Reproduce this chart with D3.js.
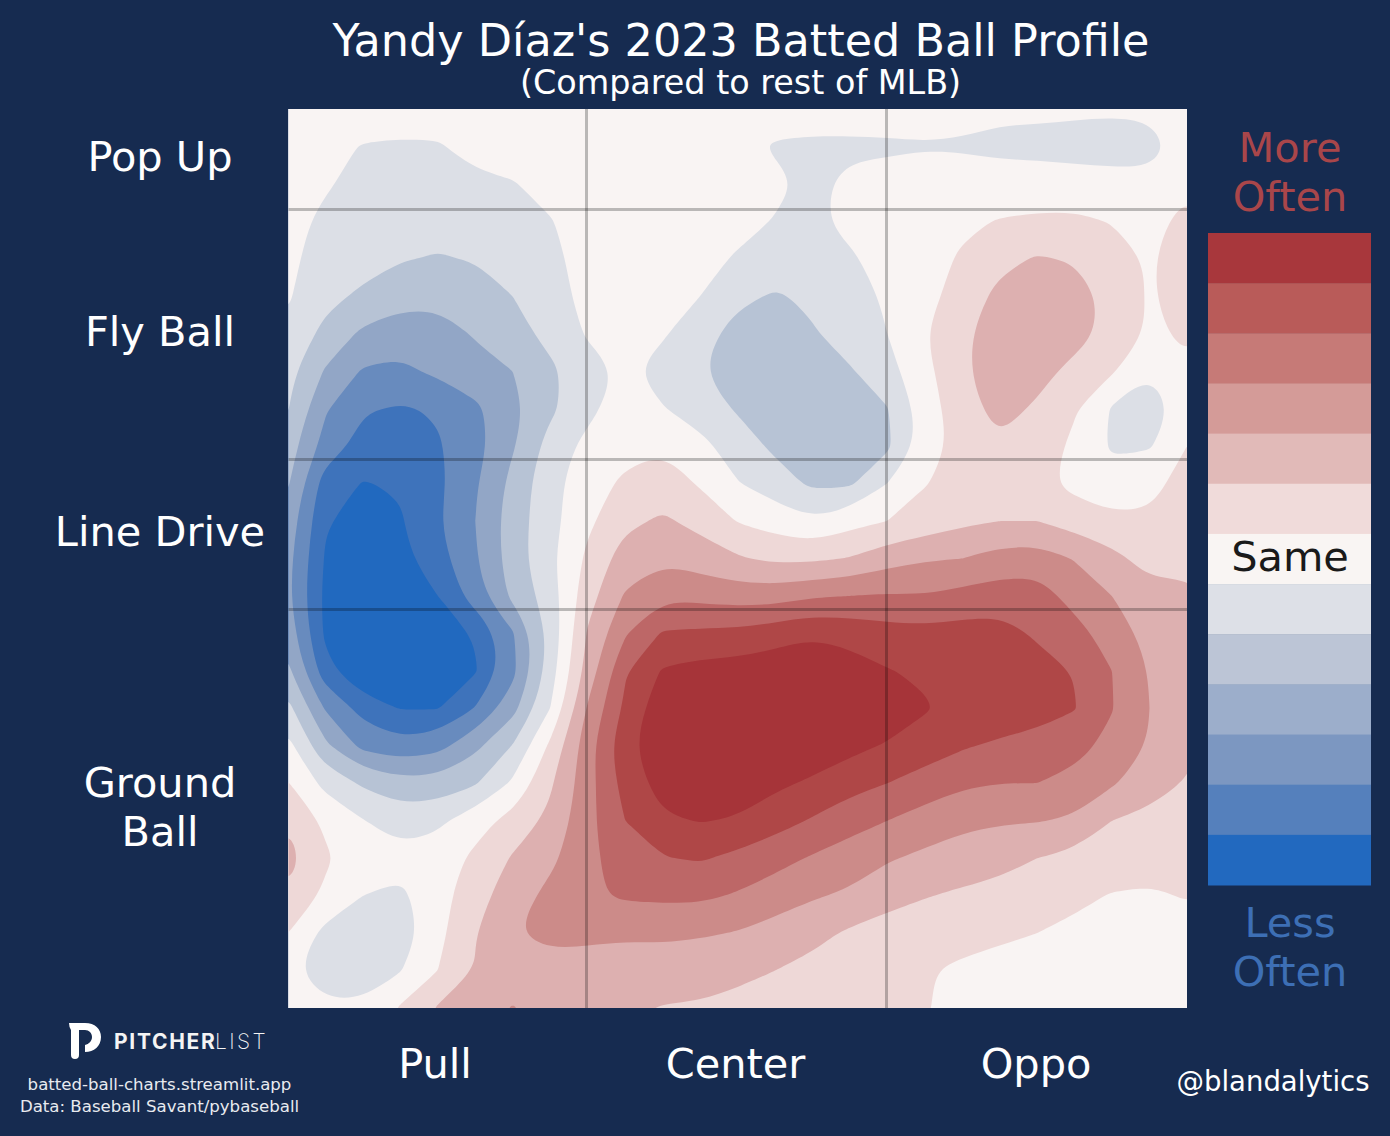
<!DOCTYPE html>
<html>
<head>
<meta charset="utf-8">
<script src="https://cdn.jsdelivr.net/npm/d3@7"></script>
<style>
  body { margin: 0; background: #162b50; }
  svg { display: block; }
  text { font-family: "DejaVu Sans", sans-serif; fill: #fff; text-anchor: middle; }
</style>
</head>
<body>
<svg id="chart" width="1390" height="1136"></svg>
<script>
// rate difference, rows top to bottom, in colour steps (0 = same)
const rate00 = [0.1,0,0,-0.1,-0.1,-0.1,0,0.1,0.1,0.1,0,0,0,-0.05,-0.1,-0.1,-0.1,-0.2,-0.2,-0.3,-0.3,-0.35,-0.4,-0.35,-0.1];
const rate01 = [0.1,-0.25,-0.55,-0.6,-0.58,-0.2,-0.15,0,0.1,0.1,0.1,0.1,-0.1,-0.6,-0.65,-0.65,-0.62,-0.55,-0.6,-0.75,-0.8,-0.85,-0.85,-0.8,-0.1];
const rate02 = [0,-0.4,-0.8,-1,-1,-0.7,-0.55,-0.2,0,0.1,0.1,0.1,0.1,-0.3,-0.7,-0.3,-0.2,-0.1,0,0,0,-0.1,-0.2,-0.25,0.3];
const rate03 = [-0.2,-0.7,-1,-1.2,-1.3,-1.2,-0.9,-0.55,-0.1,0,0.1,0,-0.2,-0.55,-0.65,-0.3,-0.1,0.1,0.35,0.55,0.65,0.7,0.45,0.2,0.8];
const rate04 = [-0.35,-0.8,-1.1,-1.45,-1.55,-1.45,-1.15,-0.7,-0.2,-0.05,0,-0.2,-0.6,-0.85,-0.85,-0.6,-0.2,0.2,0.6,1.2,1.6,1.4,1,0.4,1];
const rate05 = [-0.4,-1.2,-1.7,-2.1,-2.2,-2,-1.5,-0.9,-0.2,-0.1,-0.1,-0.5,-1.25,-1.62,-1.3,-0.8,-0.4,0.2,0.9,1.8,2,2,1.15,0.4,0.95];
const rate06 = [-0.7,-1.8,-2.7,-3.1,-3,-2.4,-1.9,-1.2,-0.4,-0.05,-0.4,-1.1,-1.9,-2.05,-1.6,-1.05,-0.5,0.45,1.35,1.9,2.1,1.9,1.15,0.4,0.6];
const rate07 = [-1.2,-2.6,-3.6,-3.7,-3.3,-2.9,-2.5,-1.7,-0.9,-0.33,-0.85,-1.45,-1.95,-2.15,-2,-1.6,-0.85,0.2,1.35,2,1.85,1.2,0.6,-0.45,0.4];
const rate08 = [-1.45,-3.4,-4.4,-4.6,-4.4,-3.7,-2.8,-1.7,-0.8,0.1,-0.45,-1,-1.6,-2,-2.15,-1.9,-1.55,0,1.1,1.85,1.35,0.6,-0.6,-1.1,0];
const rate09 = [-2,-3.9,-4.9,-4.95,-4.6,-3.9,-2.6,-1.1,-0.2,0.15,0.4,-0.2,-1,-1.7,-2.05,-2,-1.7,-0.05,0.9,1.35,1,0.3,-0.65,-0.6,0.5];
const rate10 = [-2.4,-5,-5.55,-5.4,-4.75,-3.6,-2.2,-0.8,0.05,0.7,1,0.4,-0.45,-1,-1.7,-1.65,-0.5,0.45,0.85,1,0.8,0.2,-0.1,0.3,0.75];
const rate11 = [-2.9,-5.4,-5.95,-5.6,-4.6,-3.5,-2,-0.85,0.3,1.25,1.65,1.2,0.45,0.05,-0.4,0.15,0.5,0.9,1.3,1.5,1.5,1.1,0.7,0.6,1];
const rate12 = [-3.2,-5.6,-6.3,-5.8,-4.9,-3.6,-2,-0.7,0.7,2,2.35,2,1.6,1.3,1.3,1.55,2.1,2.4,2.5,2.9,3,2.45,1.8,1.1,1.25];
const rate13 = [-3.3,-5.75,-6.3,-6.1,-5.5,-4,-2.25,-1,1.1,2.6,3.35,3.2,3.05,3.05,3.4,3.5,3.6,3.55,3.8,4,4,3.1,2.5,1.9,1.7];
const rate14 = [-2.9,-5.7,-6.4,-6.4,-6,-5.4,-3.6,-1.2,1.6,3.4,4.6,4.7,4.75,5.1,5.4,5.2,4.9,4.8,4.9,4.9,4.35,3.9,3,2.2,2.1];
const rate15 = [-2.3,-5.1,-6.5,-6.6,-6.3,-5.6,-3.8,-1,1.9,4.4,5.6,5.85,5.95,6.05,6.1,5.9,5.55,5.35,5.1,5.05,4.9,4.45,3.5,2.45,2.25];
const rate16 = [-1.2,-3.6,-4.85,-5.55,-5.55,-4.45,-2.85,-0.5,2.6,4.7,6.2,6.4,6.5,6.55,6.5,6.4,6.2,5.6,5.1,5.05,4.9,4.55,3.55,2.5,2.15];
const rate17 = [-0.2,-2.3,-3.8,-4.2,-3.85,-2.75,-1.45,0.7,3.1,5.25,6.1,6.4,6.4,6.3,6.1,5.8,5.4,5,4.6,4.35,4.15,3.85,3.2,2.45,1.8];
const rate18 = [0.55,-0.8,-1.65,-2.1,-2.15,-1.6,-0.35,1.35,3.1,4.9,5.9,6.1,6.1,5.7,5.35,4.85,4.5,4.1,3.65,3.5,3.5,3.2,2.6,2,1.4];
const rate19 = [1.4,0.3,-0.45,-1,-0.7,0.1,0.85,1.75,3.2,4.5,5.35,5.55,5.4,4.9,4.4,3.9,3.5,3.05,2.75,2.6,2.55,2.35,1.5,1.2,1.1];
const rate20 = [1.9,0.65,-0.1,-0.2,0,0.7,1.6,2.25,3.3,3.9,4.45,4.6,4.25,3.85,3.4,3,2.6,2.3,2,1.8,1.5,1.2,0.95,0.8,0.75];
const rate21 = [1.35,0.3,-0.5,-0.7,0.1,1.15,2,2.8,3.35,3.65,3.7,3.7,3.4,3,2.6,2.35,1.75,1.55,1.35,1.2,0.95,0.7,0.45,0.4,0.55];
const rate22 = [0.5,-0.8,-1.15,-1.1,0.2,1.45,2.45,2.8,2.7,2.65,2.7,2.6,2.45,2.1,1.8,1.35,1.2,0.95,0.8,0.65,0.5,0.3,0.2,0.15,0.2];
const rate23 = [-0.25,-1.15,-1.1,-0.55,0.5,1.55,2,2.1,2.1,2,1.95,1.9,1.75,1.5,1.2,0.95,0.8,0.55,0.35,0.2,0.1,0,0,0,0];
const rate24 = [-0.05,-0.3,-0.3,0.6,1.6,2.2,2.55,2.2,2,1.7,1.45,1.4,1.2,1,0.85,0.75,0.65,0.55,0.3,0.1,0,0,0,0,0];
const rateRows = [rate00,rate01,rate02,rate03,rate04,rate05,rate06,rate07,rate08,rate09,rate10,rate11,rate12,
                  rate13,rate14,rate15,rate16,rate17,rate18,rate19,rate20,rate21,rate22,rate23,rate24];

// -6 .. 6, low to high
const plotColors = ["#2169bf","#3e73bb","#688bbe","#92a6c6","#b7c3d5","#dcdfe6","#f9f4f3",
                    "#eed8d7","#ddb0b0","#cc8b89","#bd6767","#af4747","#a63439"];
const legendColors = ["#a8373c","#b95b59","#c67a77","#d49b98","#e1bab8","#f0dbda","#f9f5f3",
                      "#dde0e7","#bcc5d6","#9caecb","#7c97c1","#5580bc","#2269bf"];
const thresholds = [-5.5,-4.5,-3.5,-2.5,-1.5,-0.5,0.5,1.5,2.5,3.5,4.5,5.5];

const sprayCuts = [300, 600];
const launchCuts = [100, 350, 500];
const sprayLabels = ["Pull", "Center", "Oppo"];
const launchLabels = [["Pop Up"], ["Fly Ball"], ["Line Drive"], ["Ground", "Ball"]];

const svg = d3.select("#chart");
const left = 288, right = 1187, top_ = 109, bottom = 1008;
const nGrid = rateRows.length;

// contour coords put a sample i at i + .5
const xGrid = d3.scaleLinear().domain([0.5, nGrid - 0.5]).range([left, right]);
const yGrid = d3.scaleLinear().domain([0.5, nGrid - 0.5]).range([top_, bottom]);
const xCut = d3.scaleLinear().domain([0, 900]).range([286.5, 1186.5]);
const yCut = d3.scaleLinear().domain([0, 900]).range([109.5, 1009.5]);

svg.append("clipPath").attr("id", "plot-clip")
  .append("rect").attr("x", left + 0.5).attr("y", top_).attr("width", right - left - 0.5).attr("height", bottom - top_);

const plot = svg.append("g").attr("clip-path", "url(#plot-clip)");

plot.append("rect")
  .attr("x", left).attr("y", top_).attr("width", right - left).attr("height", bottom - top_)
  .attr("fill", plotColors[0]);

const contours = d3.contours().size([nGrid, nGrid]).thresholds(thresholds)(rateRows.flat());

const ringLine = d3.line()
  .x(d => xGrid(d[0]))
  .y(d => yGrid(d[1]))
  .curve(d3.curveBasisClosed);

function contourPath(c) {
  return c.coordinates.map(poly => poly.map(ring => ringLine(ring.slice(0, -1))).join("")).join("");
}

plot.selectAll("path.band")
  .data(contours)
  .join("path")
  .attr("class", "band")
  .attr("d", contourPath)
  .attr("fill-rule", "evenodd")
  .attr("fill", (d, i) => plotColors[i + 1]);

plot.selectAll("line.spray")
  .data(sprayCuts)
  .join("line")
  .attr("class", "spray")
  .attr("x1", d => xCut(d)).attr("x2", d => xCut(d))
  .attr("y1", top_).attr("y2", bottom)
  .attr("stroke", "#000").attr("stroke-opacity", 0.25).attr("stroke-width", 3);

plot.selectAll("line.launch")
  .data(launchCuts)
  .join("line")
  .attr("class", "launch")
  .attr("y1", d => yCut(d)).attr("y2", d => yCut(d))
  .attr("x1", left).attr("x2", right)
  .attr("stroke", "#000").attr("stroke-opacity", 0.25).attr("stroke-width", 3);

// titles
svg.append("text").attr("x", 741).attr("y", 56).attr("font-size", 44.5).text("Yandy Díaz's 2023 Batted Ball Profile");
svg.append("text").attr("x", 740.5).attr("y", 94).attr("font-size", 33.4).text("(Compared to rest of MLB)");

// axis labels
const sprayX = d3.scalePoint().domain(sprayLabels).range([435, 1036]);
svg.selectAll("text.spray")
  .data(sprayLabels)
  .join("text")
  .attr("class", "spray")
  .attr("x", d => sprayX(d)).attr("y", 1078)
  .attr("font-size", 41.5)
  .text(d => d);

const launchY = [171, 346, 546, 797];
launchLabels.forEach((lines, i) => {
  svg.append("g").selectAll("text")
    .data(lines)
    .join("text")
    .attr("x", 160).attr("y", (d, j) => launchY[i] + j * 49)
    .attr("font-size", 41.5)
    .text(d => d);
});

// colour key
const keyY = d3.scaleBand().domain(d3.range(legendColors.length)).range([233, 885]);
svg.selectAll("rect.key")
  .data(legendColors)
  .join("rect")
  .attr("class", "key")
  .attr("x", 1208).attr("width", 163)
  .attr("y", (d, i) => keyY(i)).attr("height", keyY.bandwidth() + 0.5)
  .attr("fill", d => d);

const keyText = [
  {t: "More", y: 162, c: "#a9464a"},
  {t: "Often", y: 211, c: "#a9464a"},
  {t: "Same", y: 571, c: "#1a1a1a"},
  {t: "Less", y: 937, c: "#3d6fb5"},
  {t: "Often", y: 986, c: "#3d6fb5"}
];
svg.selectAll("text.key")
  .data(keyText)
  .join("text")
  .attr("class", "key")
  .attr("x", 1290).attr("y", d => d.y)
  .attr("font-size", 41.5)
  .style("fill", d => d.c)
  .text(d => d.t);

// footer
svg.append("path")
  .attr("d", "M69 1023 H85 C95 1023 101 1029 101 1037 C101 1046 94 1052 85 1052 L85 1045 C89 1044 92 1041 92 1037 C92 1033 89 1030 85 1030 L79 1030 V1055 Q79 1059 75 1059 Q71 1059 71 1055 V1030 Q69 1027 69 1023 Z")
  .attr("fill", "#fff");
svg.append("text").attr("x", 114).attr("y", 1049).attr("font-size", 21)
  .style("text-anchor", "start").style("font-family", "Inter, sans-serif").style("font-weight", 700)
  .style("letter-spacing", "1.7px").style("fill", "#f4f4f4").text("PITCHER");
svg.append("text").attr("x", 215).attr("y", 1049).attr("font-size", 21)
  .style("text-anchor", "start").style("font-family", "Inter, sans-serif").style("font-weight", 200)
  .style("letter-spacing", "2.4px").style("fill", "#f4f4f4").text("LIST");

svg.append("text").attr("x", 159.5).attr("y", 1090).attr("font-size", 16.6).style("fill", "#e8eaef").text("batted-ball-charts.streamlit.app");
svg.append("text").attr("x", 159.5).attr("y", 1112).attr("font-size", 16.6).style("fill", "#e8eaef").text("Data: Baseball Savant/pybaseball");
svg.append("text").attr("x", 1273).attr("y", 1091).attr("font-size", 27.5).text("@blandalytics");
</script>
</body>
</html>
